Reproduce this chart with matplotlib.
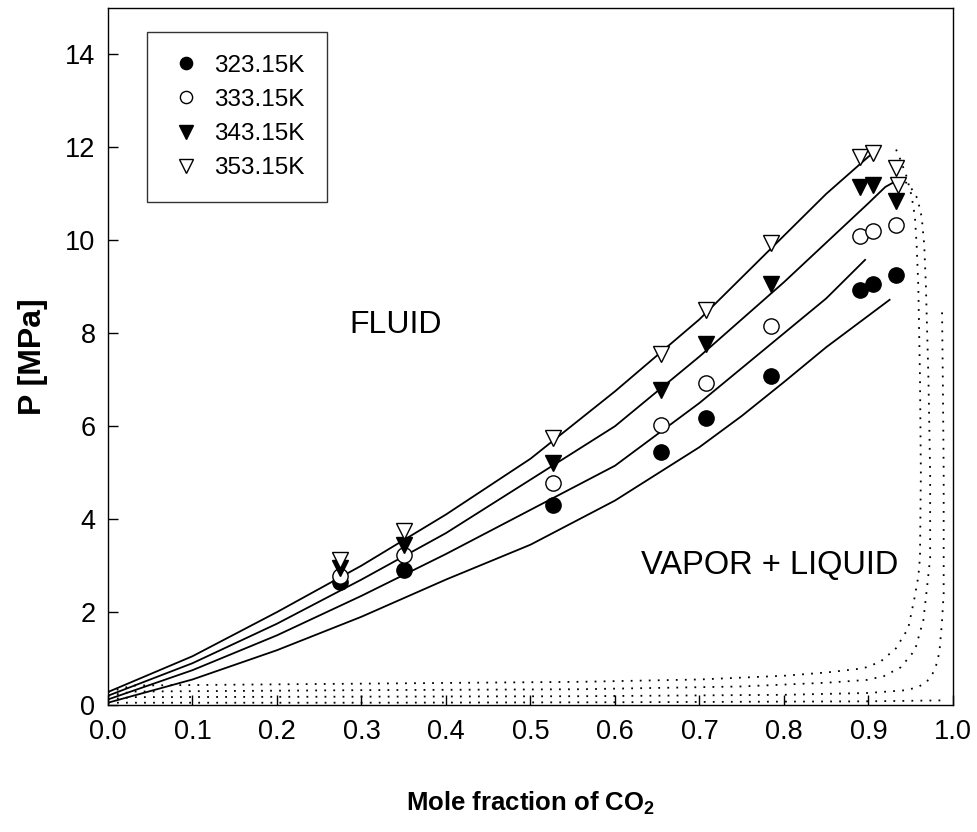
import matplotlib
matplotlib.use("Agg")
import matplotlib.pyplot as plt

plt.rcParams['font.family'] = ['Liberation Sans', 'DejaVu Sans']
plt.rcParams['mathtext.fontset'] = 'custom'
plt.rcParams['mathtext.rm'] = 'Liberation Sans'
plt.rcParams['mathtext.bf'] = 'Liberation Sans:bold'

# experimental points (x CO2, P MPa)
x_323 = [0.275, 0.35, 0.527, 0.655, 0.708, 0.785, 0.890, 0.905, 0.932]
p_323 = [2.65, 2.90, 4.30, 5.45, 6.17, 7.07, 8.93, 9.05, 9.25]
x_333 = [0.275, 0.35, 0.527, 0.655, 0.708, 0.785, 0.890, 0.905, 0.932]
p_333 = [2.78, 3.22, 4.77, 6.02, 6.93, 8.15, 10.10, 10.20, 10.32]
x_343 = [0.275, 0.35, 0.527, 0.655, 0.708, 0.785, 0.890, 0.905, 0.932]
p_343 = [2.95, 3.45, 5.20, 6.78, 7.78, 9.07, 11.15, 11.20, 10.85]
x_353 = [0.275, 0.35, 0.527, 0.655, 0.708, 0.785, 0.890, 0.905, 0.932, 0.935]
p_353 = [3.12, 3.75, 5.75, 7.55, 8.50, 9.95, 11.80, 11.87, 11.55, 11.20]

# model, liquid side (solid lines)
lx_353 = [0.0, 0.1, 0.2, 0.3, 0.4, 0.5, 0.6, 0.7, 0.75, 0.8, 0.85, 0.9, 0.91]
lp_353 = [0.28, 1.05, 2.0, 3.0, 4.1, 5.3, 6.75, 8.3, 9.2, 10.1, 11.0, 11.8, 11.95]
lx_343 = [0.0, 0.1, 0.2, 0.3, 0.4, 0.5, 0.6, 0.7, 0.75, 0.8, 0.85, 0.9, 0.92, 0.93, 0.94]
lp_343 = [0.2, 0.9, 1.75, 2.7, 3.7, 4.85, 6.0, 7.5, 8.3, 9.1, 9.95, 10.8, 11.15, 11.25, 11.25]
lx_333 = [0.0, 0.1, 0.2, 0.3, 0.4, 0.5, 0.6, 0.7, 0.75, 0.8, 0.85, 0.896]
lp_333 = [0.12, 0.75, 1.5, 2.35, 3.25, 4.2, 5.15, 6.5, 7.25, 8.0, 8.75, 9.58]
lx_323 = [0.0, 0.1, 0.2, 0.3, 0.4, 0.5, 0.6, 0.7, 0.75, 0.8, 0.85, 0.925]
lp_323 = [0.05, 0.55, 1.18, 1.9, 2.7, 3.45, 4.4, 5.55, 6.22, 6.95, 7.7, 8.72]

# model, vapor side (dotted lines)
vx_a = [0.0, 0.03, 0.3, 0.56, 0.7, 0.8, 0.85, 0.894, 0.914, 0.9325, 0.947, 0.954,
        0.959, 0.961, 0.962, 0.961, 0.959, 0.957, 0.955, 0.951, 0.945, 0.936, 0.930]
vp_a = [0.28, 0.42, 0.46, 0.50, 0.55, 0.63, 0.70, 0.79, 0.93, 1.22, 1.65, 2.26,
        2.76, 3.19, 5.0, 7.0, 9.0, 9.9, 10.5, 10.96, 11.38, 11.82, 12.06]
vx_b = [0.0, 0.03, 0.3, 0.56, 0.75, 0.85, 0.898, 0.918, 0.938, 0.955, 0.965, 0.969,
        0.973, 0.973, 0.971, 0.968, 0.966, 0.963, 0.958, 0.948, 0.942]
vp_b = [0.2, 0.29, 0.32, 0.34, 0.40, 0.48, 0.54, 0.62, 0.81, 1.18, 1.83, 2.48,
        3.16, 5.0, 7.0, 9.0, 9.9, 10.5, 10.9, 11.2, 11.27]
vx_c = [0.0, 0.03, 0.3, 0.56, 0.8, 0.9, 0.945, 0.959, 0.969, 0.976, 0.981, 0.984,
        0.987, 0.989, 0.989, 0.989, 0.988, 0.987]
vp_c = [0.12, 0.17, 0.18, 0.19, 0.22, 0.26, 0.32, 0.39, 0.50, 0.68, 0.90, 1.15,
        1.79, 2.4, 3.12, 5.0, 7.0, 8.6]
vx_d = [0.0, 0.3, 0.6, 0.9, 0.987]
vp_d = [0.05, 0.05, 0.06, 0.08, 0.10]

fig = plt.figure(figsize=(9.77, 8.32), dpi=100, facecolor='white')
ax = fig.add_axes([0.1105, 0.1526, 0.8649, 0.8378])

for lx, lp in [(lx_353, lp_353), (lx_343, lp_343), (lx_333, lp_333), (lx_323, lp_323)]:
    ax.plot(lx, lp, color='black', lw=1.3)
for vx, vp in [(vx_a, vp_a), (vx_b, vp_b), (vx_c, vp_c), (vx_d, vp_d)]:
    ax.plot(vx, vp, color='black', lw=1.3, linestyle=(0, (1, 4)))

ax.plot(x_323, p_323, 'o', ms=11, mfc='black', mec='black', mew=1, label='323.15K')
ax.plot(x_333, p_333, 'o', ms=11, mfc='white', mec='black', mew=1, label='333.15K')
ax.plot(x_343, p_343, 'v', ms=12, mfc='black', mec='black', mew=1, label='343.15K')
ax.plot(x_353, p_353, 'v', ms=12, mfc='white', mec='black', mew=1, label='353.15K')

ax.set_xlim(0, 1.0)
ax.set_ylim(0, 15)
ax.set_xticks([i / 10 for i in range(11)])
ax.set_xticklabels([f'{i / 10:.1f}' for i in range(11)])
ax.set_yticks(range(0, 15, 2))
ax.tick_params(direction='in', length=7, width=1, labelsize=19.5)
ax.tick_params(axis='x', pad=10)
ax.tick_params(axis='y', pad=9)
for s in ax.spines.values():
    s.set_linewidth(1)

ax.set_xlabel('Mole fraction of CO$_\\mathbf{2}$', fontsize=18.5, fontweight='bold', labelpad=32)
ax.set_ylabel('P [MPa]', fontsize=23, fontweight='bold', labelpad=12)

ax.text(0.34, 8.18, 'FLUID', fontsize=23, ha='center', va='center')
ax.text(0.783, 3.0, 'VAPOR + LIQUID', fontsize=23.5, ha='center', va='center')

leg = ax.legend(loc='upper left', bbox_to_anchor=(0.046, 0.966), fontsize=17.5,
                frameon=True, fancybox=False, markerscale=0.8, handletextpad=0.5,
                borderpad=0.95, labelspacing=0.5, handlelength=1.3, borderaxespad=0)
leg.get_frame().set_edgecolor('black')
leg.get_frame().set_linewidth(1)

fig.savefig('out.png', dpi=100)
